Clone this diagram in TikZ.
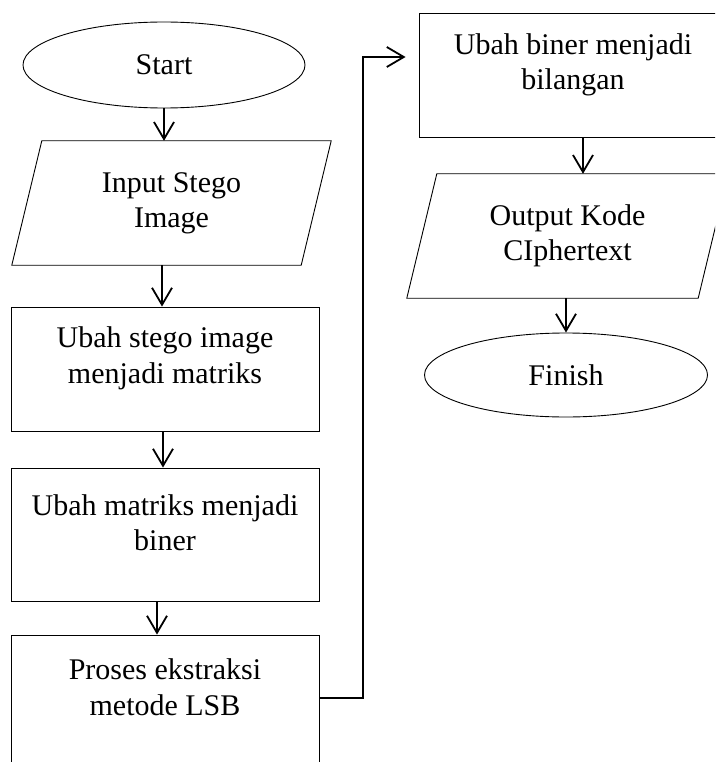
\documentclass[tikz,border=0pt]{standalone}
\usepackage{fontspec}
\setmainfont{Liberation Serif}
\usetikzlibrary{shapes.geometric,arrows.meta,calc}
\begin{document}
\begin{tikzpicture}[x=1pt,y=-1pt,
  lbl/.style={font=\fontsize{30}{35.7}\selectfont},
  outline/.style={draw, line width=0.9pt},
  box/.style={outline, rectangle, minimum width=308pt, inner sep=0},
  term/.style={outline, lbl, ellipse, minimum width=282pt, minimum height=86pt, inner sep=0},
  body/.style={lbl, rectangle, inner sep=0, minimum height=124pt, align=center},
  txt/.style={lbl, inner sep=0, align=center, anchor=north},
  arr/.style={line width=1.8pt, -{Straight Barb[length=17pt,width=20pt]}}]
  % canvas
  \fill[white] (0,0) rectangle (715,762);
  \useasboundingbox (0,0) rectangle (715,762);
  \clip (0,0) rectangle (715,762);

  % left column
  \node[term] (start) at (164,65) {Start};

  \node[body, minimum width=289pt] (in) at (171.5,203) {\strut Input Stego\\\strut Image};
  \draw[outline] ($(in.south west)+(-15,0)$) -- ($(in.south east)+(-15,0)$)
    -- ($(in.north east)+(15,0)$) -- ($(in.north west)+(15,0)$) -- cycle;

  \node[box, minimum height=124pt] (m1) at (165,369) {};
  \node[txt] (m1t) at ($(m1.north)+(0,15.7)$) {\strut Ubah stego image\\\strut menjadi matriks};

  \node[box, minimum height=133pt] (m2) at (165,534.5) {};
  \node[txt] (m2t) at ($(m2.north)+(0,22.5)$) {\strut Ubah matriks menjadi\\\strut biner};

  \node[box, minimum height=150pt] (m3) at (165,710) {};
  \node[txt] (m3t) at ($(m3.north)+(0,20)$) {\strut Proses ekstraksi\\\strut metode LSB};

  % right column
  \node[box, minimum height=124pt] (m4) at (573,75) {};
  \node[txt] (m4t) at ($(m4.north)+(0,16.5)$) {\strut Ubah biner menjadi\\\strut bilangan};

  \node[body, minimum width=291pt] (out) at (567.5,236) {\strut Output Kode\\\strut CIphertext};
  \draw[outline] ($(out.south west)+(-15,0)$) -- ($(out.south east)+(-15,0)$)
    -- ($(out.north east)+(15,0)$) -- ($(out.north west)+(15,0)$) -- cycle;

  \node[term, minimum width=283pt, minimum height=84pt] (fin) at (566,375) {Finish};

  % connectors
  \draw[arr] (start.south) -- (start.south |- in.north);
  \draw[arr] ($(m1.north |- in.south)+(-3,0)$) -- ($(m1.north)+(-3,0)$);
  \draw[arr] ($(m2.north |- m1.south)+(-2,0)$) -- ($(m2.north)+(-2,0)$);
  \draw[arr] ($(m3.north |- m2.south)+(-8,0)$) -- ($(m3.north)+(-8,0)$);
  \coordinate (bend) at (363,57);
  \draw[arr] ($(m3.east)+(0,-12)$) -| (bend) -- ($(bend -| m4.west)+(-13,0)$);
  \draw[arr] ($(m4.south)+(10,0)$) -- ($(m4.south |- out.north)+(10,0)$);
  \draw[arr] (fin.north |- out.south) -- (fin.north);
\end{tikzpicture}
\end{document}
